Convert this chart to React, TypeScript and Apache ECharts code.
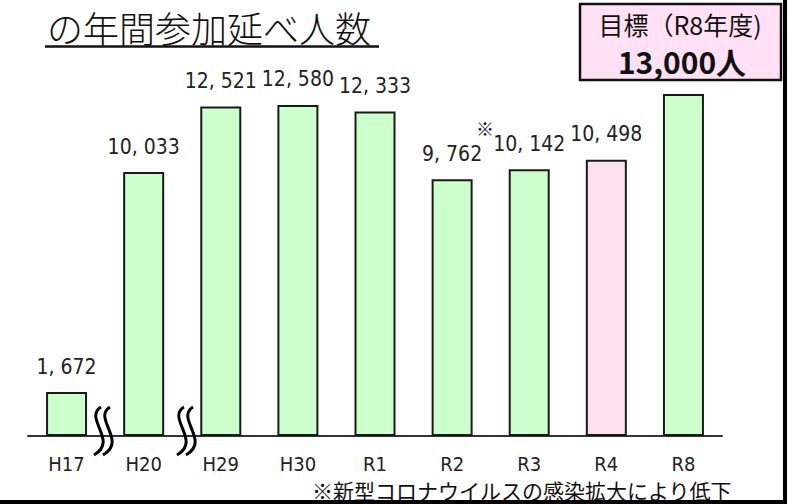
import React, { useEffect, useRef } from "react";
import * as echarts from "echarts";

const categories = ["H17", "H20", "H29", "H30", "R1", "R2", "R3", "R4", "R8"];
const values = [1672, 10033, 12521, 12580, 12333, 9762, 10142, 10498, 13000];
const showLabel = [true, true, true, true, true, true, true, true, false];
const barColors = ["#ccffcc", "#ccffcc", "#ccffcc", "#ccffcc", "#ccffcc", "#ccffcc", "#ccffcc", "#ffe0f0", "#ccffcc"];
const titleText = "の年間参加延べ人数";
const goalLine1 = "目標（R8年度)";
const goalLine2 = "13,000人";
const footnote = "※新型コロナウイルスの感染拡大により低下";
const noteMark = "※";

const numFont = '"DejaVu Sans Condensed", "Liberation Sans Narrow", "Liberation Sans", sans-serif';
const jpFont = '"Noto Sans CJK JP", sans-serif';

function squiggle(px: number) {
  return {
    type: "bezierCurve",
    shape: { x1: px, y1: 407, cpx1: px - 18, cpy1: 418, cpx2: px + 18, cpy2: 441, x2: px - 7, y2: 455 },
    style: { stroke: "#000", lineWidth: 3, fill: null },
    z: 10,
  };
}

export default function App() {
  const ref = useRef<HTMLDivElement>(null);
  useEffect(() => {
    document.body.style.margin = "0";
    const chart = echarts.init(ref.current!, null, { renderer: "svg" });
    chart.setOption({
      animation: false,
      backgroundColor: "#ffffff",
      grid: { left: 28, right: 73, top: 15, bottom: 68 },
      xAxis: {
        type: "category",
        data: categories,
        axisLine: { lineStyle: { color: "#333", width: 2 } },
        axisTick: { show: false },
        axisLabel: { fontFamily: numFont, fontSize: 20, lineHeight: 18, color: "#222", margin: 19 },
      },
      yAxis: { type: "value", min: 0, max: 16000, show: false, splitLine: { show: false } },
      series: [
        {
          type: "bar",
          barWidth: 41,
          data: values.map((v, i) => ({
            value: v,
            itemStyle: { color: barColors[i], borderColor: "#1a1a1a", borderWidth: 2 },
            label: { show: showLabel[i] },
          })),
          label: {
            position: "top",
            distance: 15,
            fontFamily: numFont,
            fontSize: 21,
            color: "#222",
            formatter: (p: any) => Number(p.value).toLocaleString("en-US").replace(",", ", "),
          },
        },
      ],
      graphic: [
        {
          type: "text",
          left: 47,
          top: 9,
          style: { text: titleText, fontFamily: jpFont, fontSize: 36, fontWeight: 300, fill: "#111" },
        },
        { type: "line", shape: { x1: 45, y1: 46.5, x2: 379, y2: 46.5 }, style: { stroke: "#111", lineWidth: 2.5 } },
        {
          type: "rect",
          shape: { x: 580, y: 4, width: 201, height: 76 },
          style: { fill: "#ffe0f4", stroke: "#111", lineWidth: 2.5 },
        },
        {
          type: "text",
          x: 680,
          y: 24,
          style: { text: goalLine1, fontFamily: jpFont, fontSize: 25, lineHeight: 24, fill: "#111", align: "center", verticalAlign: "middle" },
        },
        {
          type: "text",
          x: 682,
          y: 61,
          style: { text: goalLine2, fontFamily: jpFont, fontSize: 30, lineHeight: 28, fontWeight: "bold", fill: "#111", align: "center", verticalAlign: "middle" },
        },
        {
          type: "text",
          x: 485,
          y: 128,
          style: { text: noteMark, fontFamily: jpFont, fontSize: 18, lineHeight: 16, fill: "#111", align: "center", verticalAlign: "middle" },
        },
        {
          type: "text",
          x: 312,
          y: 490,
          style: { text: footnote, fontFamily: jpFont, fontSize: 21, lineHeight: 19, fill: "#111", verticalAlign: "middle" },
        },
        squiggle(101),
        squiggle(110),
        squiggle(184),
        squiggle(193),
        { type: "rect", shape: { x: 783, y: 0, width: 4, height: 504 }, style: { fill: "#000" } },
        { type: "rect", shape: { x: 0, y: 500, width: 787, height: 4 }, style: { fill: "#000" } },
      ],
    });
    return () => chart.dispose();
  }, []);
  return <div ref={ref} style={{ width: 795, height: 504 }} />;
}
